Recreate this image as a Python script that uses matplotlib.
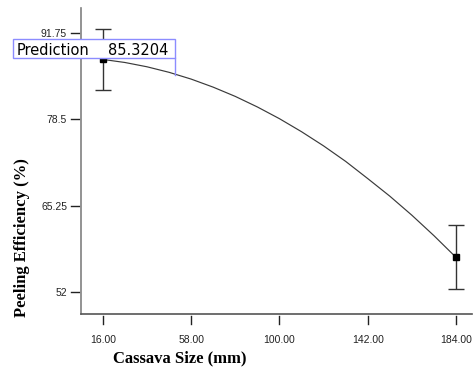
import matplotlib
matplotlib.use("Agg")
import matplotlib.pyplot as plt
from matplotlib.patches import Rectangle
import matplotlib.transforms as mtransforms

# data
curve_x = [16, 26.5, 37, 47.5, 58, 68.5, 79, 89.5, 100, 110.5, 121, 131.5, 142, 152.5, 163, 173.5, 184]
curve_y = [87.7, 87.23, 86.57, 85.72, 84.68, 83.44, 82.02, 80.4, 78.6, 76.6, 74.42, 72.04,
           69.4, 66.7, 63.77, 60.63, 57.3]
pts_x = [16, 184]
pts_y = [87.7, 57.3]
pts_err = [4.75, 4.9]
xticks = [16, 58, 100, 142, 184]
xtick_labels = ["16.00", "58.00", "100.00", "142.00", "184.00"]
yticks = [52, 65.25, 78.5, 91.75]
ytick_labels = ["52", "65.25", "78.5", "91.75"]
pred_x = 50.2
pred_y = 85.3204
pred_name = "Prediction"
pred_value = "85.3204"

W, H = 473, 372
fig = plt.figure(figsize=(W / 100, H / 100), dpi=100)
ax = fig.add_axes([81 / W, (H - 314) / H, (472 - 81) / W, (314 - 8) / H])

ax.set_xlim(5.6, 191.6)
ax.set_ylim(48.6, 95.6)

ax.plot(curve_x, curve_y, color="#3a3a3a", lw=0.85)
ax.errorbar(pts_x, pts_y, yerr=pts_err, fmt="s", color="black", ms=5,
            ecolor="#333333", elinewidth=1.0, capsize=6, capthick=1.0)

for s in ["top", "right"]:
    ax.spines[s].set_visible(False)
ax.spines["left"].set_color("#808080")
ax.spines["bottom"].set_color("#555555")
ax.spines["left"].set_linewidth(1.2)
ax.spines["bottom"].set_linewidth(1.2)

ax.set_xticks(xticks)
ax.set_xticklabels(xtick_labels)
ax.set_yticks(yticks)
ax.set_yticklabels(ytick_labels)
ax.tick_params(length=0, labelsize=7.5, colors="#222222")
ax.tick_params(axis="x", pad=15)
ax.tick_params(axis="y", pad=10)
for lab in ax.get_xticklabels() + ax.get_yticklabels():
    lab.set_fontfamily("Liberation Sans")

# detached tick marks
tx = mtransforms.blended_transform_factory(ax.transData, ax.transAxes)
for v in xticks:
    ax.plot([v, v], [-0.005, -0.033], transform=tx, color="#222222", lw=1.0, clip_on=False)
ty = mtransforms.blended_transform_factory(ax.transAxes, ax.transData)
for v in yticks:
    ax.plot([-0.005, -0.025], [v, v], transform=ty, color="#222222", lw=1.0, clip_on=False)

ax.set_xlabel("Cassava Size (mm)", family="Liberation Serif", fontweight="bold", fontsize=12)
ax.xaxis.set_label_coords(0.082, -0.118, transform=ax.transAxes)
ax.xaxis.label.set_ha("left")
ax.xaxis.label.set_va("top")
ax.set_ylabel("Peeling Efficiency (%)", family="Liberation Serif", fontweight="bold", fontsize=12)
ax.yaxis.set_label_coords(-0.13, 0.25)

# prediction box
box_left = -26.8
box_bottom = 87.9
box_top = 90.83
ax.add_patch(Rectangle((box_left, box_bottom), pred_x - box_left, box_top - box_bottom,
                       facecolor="white", edgecolor="#8c8cff", lw=1.0, clip_on=False, zorder=5))
ymid = (box_bottom + box_top) / 2
ax.text(-24.9, ymid, pred_name, family="DejaVu Sans", fontsize=10.5, va="center_baseline",
        ha="left", zorder=6, clip_on=False)
ax.text(18.4, ymid, pred_value, family="DejaVu Sans", fontsize=10.5, va="center_baseline",
        ha="left", zorder=6, clip_on=False)
ax.plot([pred_x, pred_x], [pred_y, box_bottom], color="#8c8cff", lw=1.0, zorder=4)

fig.savefig("out.png", dpi=100)
